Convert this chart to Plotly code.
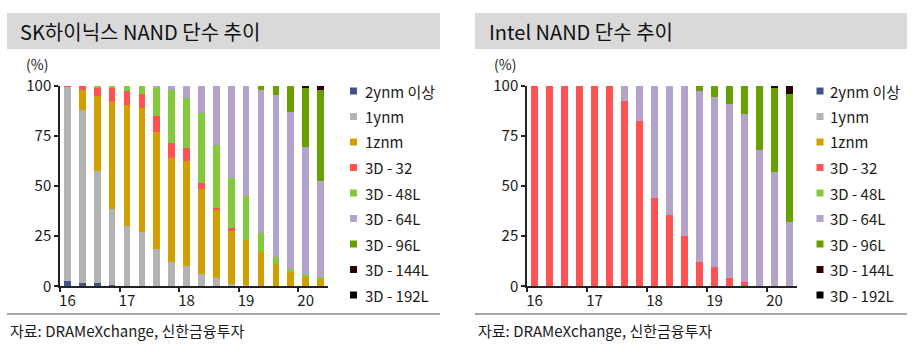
import plotly.graph_objects as go

W, H = 919, 352

# ---------------- data ----------------
quarters = ["16Q1", "16Q2", "16Q3", "16Q4", "17Q1", "17Q2", "17Q3", "17Q4",
            "18Q1", "18Q2", "18Q3", "18Q4", "19Q1", "19Q2", "19Q3", "19Q4",
            "20Q1", "20Q2"]
year_labels = ["16", "17", "18", "19", "20"]
series_names = ["2ynm 이상", "1ynm", "1znm", "3D - 32", "3D - 48L",
                "3D - 64L", "3D - 96L", "3D - 144L", "3D - 192L"]
series_colors = ["#44528A", "#B3B3B3", "#D19F00", "#FF5353", "#84C83C",
                 "#B3A3CA", "#67A000", "#2A0000", "#000000"]

# SK hynix (%)
sk_2ynm = [2.5, 1.8, 1.8, 0.8, 0, 0, 0, 0, 0, 0, 0, 0, 0, 0, 0, 0, 0, 0]
sk_1ynm = [97.0, 86.0, 55.7, 37.8, 30.2, 27.2, 18.4, 12.3, 10.3, 6.3, 4.0, 1.3, 0.8, 0, 0, 0, 0, 0]
sk_1znm = [0, 10.0, 37.5, 53.1, 60.2, 61.5, 58.5, 51.5, 52.2, 42.3, 33.8, 26.9, 22.2, 17.1, 10.9, 7.1, 4.8, 3.8]
sk_3d32 = [0.5, 2.2, 4.3, 7.0, 7.1, 7.0, 7.8, 7.7, 6.3, 3.0, 1.3, 0.7, 0, 0, 0, 0, 0, 0]
sk_3d48 = [0, 0, 0.7, 1.3, 2.5, 4.3, 14.6, 26.3, 25.1, 35.0, 31.4, 25.0, 21.9, 9.6, 3.9, 1.7, 0.8, 1.0]
sk_3d64 = [0, 0, 0, 0, 0, 0, 0.7, 2.2, 6.1, 13.4, 29.5, 46.1, 55.1, 71.3, 80.7, 78.3, 63.6, 47.8]
sk_3d96 = [0, 0, 0, 0, 0, 0, 0, 0, 0, 0, 0, 0, 0, 2.0, 4.5, 12.9, 30.1, 45.1]
sk_3d144 = [0, 0, 0, 0, 0, 0, 0, 0, 0, 0, 0, 0, 0, 0, 0, 0, 0.7, 2.3]
sk_3d192 = [0] * 18

# Intel (%)
in_2ynm = [0] * 18
in_1ynm = [0] * 18
in_1znm = [0] * 18
in_3d32 = [100, 100, 100, 100, 100, 100, 92.5, 82.6, 44.1, 35.5, 25.2, 11.9, 9.6, 4.1, 2.0, 0, 0, 0]
in_3d48 = [0] * 18
in_3d64 = [0, 0, 0, 0, 0, 0, 7.5, 17.4, 55.9, 64.5, 74.8, 85.6, 84.8, 86.9, 83.9, 67.7, 56.9, 32.3]
in_3d96 = [0, 0, 0, 0, 0, 0, 0, 0, 0, 0, 0, 2.5, 5.6, 9.0, 14.1, 32.3, 42.1, 63.6]
in_3d144 = [0, 0, 0, 0, 0, 0, 0, 0, 0, 0, 0, 0, 0, 0, 0, 0, 1.0, 4.1]
in_3d192 = [0] * 18

sk_series = [sk_2ynm, sk_1ynm, sk_1znm, sk_3d32, sk_3d48, sk_3d64, sk_3d96, sk_3d144, sk_3d192]
in_series = [in_2ynm, in_1ynm, in_1znm, in_3d32, in_3d48, in_3d64, in_3d96, in_3d144, in_3d192]

titles = ["SK하이닉스 NAND 단수 추이", "Intel NAND 단수 추이"]
source_text = "자료: DRAMeXchange, 신한금융투자"

# ---------------- layout helpers ----------------
FONT = "Noto Sans CJK KR"
TXT = "#1a1a1a"


def px(x):
    return x / W


def py(y):
    return 1 - y / H


x_idx = list(range(len(quarters)))

fig = go.Figure()

panels = [
    dict(series=sk_series, xa="x", ya="y", x0=60, x1=328,
         title_x0=7, title_x1=440, title_tx=18, pct_x=37,
         leg_mx=353.5, leg_tx=363),
    dict(series=in_series, xa="x2", ya="y2", x0=527, x1=797,
         title_x0=475, title_x1=907, title_tx=487, pct_x=505,
         leg_mx=820, leg_tx=828),
]

for p in panels:
    for name, color, vals in zip(series_names, series_colors, p["series"]):
        fig.add_trace(go.Bar(
            x=x_idx, y=vals, name=name, width=0.45,
            marker=dict(color=color, line=dict(width=0)),
            xaxis=p["xa"], yaxis=p["ya"], showlegend=False,
            hovertext=quarters,
        ))

y_top, y_bot = 85.7, 286.3
tick_bounds = [i * 4 - 0.5 for i in range(len(year_labels))]
tick_pos = [i * 4 for i in range(len(year_labels))]

axis_common = dict(showgrid=False, zeroline=False, showline=True, automargin=False,
                   linecolor="#222", linewidth=1.5,
                   tickfont=dict(family=FONT, size=15, color=TXT))

layout = dict(
    template="none",
    width=W, height=H, margin=dict(l=0, r=0, t=0, b=0, pad=0, autoexpand=False),
    paper_bgcolor="white", plot_bgcolor="white",
    barmode="stack", showlegend=False,
    font=dict(family=FONT, color=TXT),
)

shapes = []
annotations = []
for i, p in enumerate(panels):
    sfx = "" if i == 0 else str(i + 1)
    layout["xaxis" + sfx] = dict(
        axis_common, domain=[px(p["x0"]), px(p["x1"])], range=[-0.5, 17.5],
        anchor="y" + sfx, tickmode="array", tickvals=tick_pos, ticktext=year_labels,
        ticks="", ticklen=0,
        minor=dict(tickmode="array", tickvals=tick_bounds, ticks="outside",
                   ticklen=4, tickwidth=1.5, tickcolor="#222"),
    )
    layout["yaxis" + sfx] = dict(
        axis_common, domain=[py(y_bot), py(y_top)], range=[0, 100],
        anchor="x" + sfx, tickmode="array", tickvals=[0, 25, 50, 75, 100],
        ticks="outside", ticklen=4, tickwidth=1.5, tickcolor="#222",
    )
    # title bar
    shapes.append(dict(type="rect", xref="paper", yref="paper",
                       x0=px(p["title_x0"]), x1=px(p["title_x1"]),
                       y0=py(49), y1=py(13), fillcolor="#D9D9D9", line=dict(width=0),
                       layer="below"))
    annotations.append(dict(text=titles[i], xref="paper", yref="paper",
                            x=px(p["title_tx"]), y=py(31), xanchor="left", yanchor="middle",
                            showarrow=False, font=dict(family=FONT, size=20, color="#111")))
    # (%)
    annotations.append(dict(text="(%)", xref="paper", yref="paper",
                            x=px(p["pct_x"]), y=py(64), xanchor="center", yanchor="middle",
                            showarrow=False, font=dict(family=FONT, size=14, color=TXT)))
    # separator line
    shapes.append(dict(type="line", xref="paper", yref="paper",
                       x0=px(p["title_x0"]), x1=px(p["title_x1"]),
                       y0=py(314), y1=py(314), line=dict(color="#A6A6A6", width=2)))
    # source
    annotations.append(dict(text=source_text, xref="paper", yref="paper",
                            x=px(p["title_x0"] + 1), y=py(330), xanchor="left", yanchor="middle",
                            showarrow=False, font=dict(family=FONT, size=15, color=TXT)))
    # legend
    for k, (name, color) in enumerate(zip(series_names, series_colors)):
        ly = 91 + k * 25.5
        shapes.append(dict(type="rect", xref="paper", yref="paper",
                           x0=px(p["leg_mx"] - 3.5), x1=px(p["leg_mx"] + 3.5),
                           y0=py(ly + 3.5), y1=py(ly - 3.5),
                           fillcolor=color, line=dict(width=0)))
        annotations.append(dict(text=name, xref="paper", yref="paper",
                                x=px(p["leg_tx"]), y=py(ly), xanchor="left", yanchor="middle",
                                showarrow=False, font=dict(family=FONT, size=15, color=TXT)))

layout["shapes"] = shapes
layout["annotations"] = annotations
fig.update_layout(**layout)

fig.write_html("out.html")
